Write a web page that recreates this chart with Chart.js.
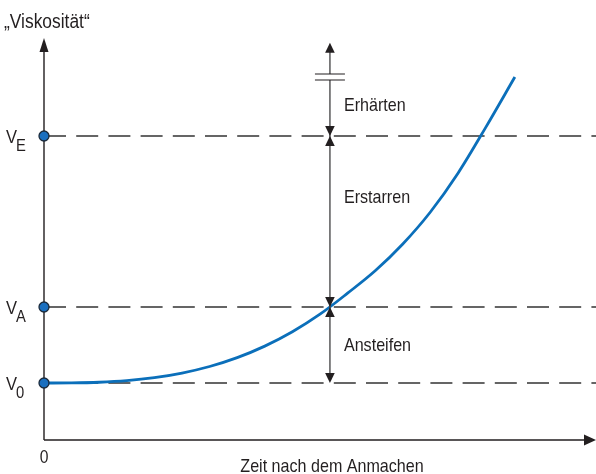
<!DOCTYPE html>
<html><head><meta charset="utf-8">
<script src="https://cdn.jsdelivr.net/npm/chart.js@4.4.1/dist/chart.umd.min.js"></script>
<style>html,body{margin:0;padding:0;background:#fff}#wrap{width:596px;height:474px;position:relative}</style>
</head><body><div id="wrap"><canvas id="c"></canvas></div>
<script>
// ---- data ----
const timeValues      = [0, 5, 10, 15, 20, 25, 30, 35, 40, 45, 50, 55, 60, 65, 70, 75, 80, 85.3];
const viscosityValues = [14.25, 14.28, 14.44, 14.84, 15.58, 16.73, 18.37, 20.59, 23.47, 27.06, 31.45, 36.71, 42.3, 49.0, 57.0, 66.7, 78.1, 90.75];
const levelSubscripts = ['0', 'A', 'E'];
const levelValues     = [14.25, 33.25, 76];
const phaseNames      = ['Ansteifen', 'Erstarren', 'Erhärten'];
const phaseTime       = [51.8];
const xTickLabels     = ['0'];
const yAxisTitle      = '\u201EViskosität\u201C';
const xAxisTitle      = 'Zeit nach dem Anmachen';

const FONT = '"Liberation Sans",Arial,sans-serif';
const TXT = '#231f20';
const SQUEEZE = 0.87;

const curveData = timeValues.map((x, i) => ({x, y: viscosityValues[i]}));
const levelSets = levelValues.map(v => ({
  data: [{x: 0, y: v}, {x: 100, y: v}],
  borderColor: '#333', borderWidth: 1.3, borderDash: [22, 10.2],
  pointRadius: 0, fill: false, order: 3
}));

function txt(ctx, s, x, y, size, align) {
  ctx.save();
  ctx.font = size + 'px ' + FONT;
  ctx.textBaseline = 'alphabetic';
  ctx.textAlign = align || 'left';
  ctx.translate(x, y);
  ctx.scale(SQUEEZE, 1);
  ctx.fillText(s, 0, 0);
  ctx.restore();
}

function arrowHead(ctx, x, y, dir) { // dir: -1 up, 1 down, tip at (x,y)
  const L = 10, W = 4.8;
  ctx.beginPath();
  ctx.moveTo(x, y);
  ctx.lineTo(x - W, y - dir * L);
  ctx.lineTo(x + W, y - dir * L);
  ctx.closePath();
  ctx.fill();
}

const diagramPlugin = {
  id: 'diagram',
  beforeDatasetsDraw(chart) {
    const {ctx, scales: {x, y}} = chart;
    const x0 = x.getPixelForValue(0), y0 = y.getPixelForValue(0);
    const xr = x.getPixelForValue(x.max), yt = y.getPixelForValue(y.max);
    ctx.save();
    ctx.strokeStyle = '#231f20'; ctx.fillStyle = '#231f20'; ctx.lineWidth = 1.4;
    ctx.beginPath();
    ctx.moveTo(x0, y0); ctx.lineTo(x0, yt + 8);
    ctx.moveTo(x0, y0); ctx.lineTo(xr - 8, y0);
    ctx.stroke();
    ctx.beginPath(); ctx.moveTo(x0, yt); ctx.lineTo(x0 - 4.5, yt + 14); ctx.lineTo(x0 + 4.5, yt + 14); ctx.closePath(); ctx.fill();
    ctx.beginPath(); ctx.moveTo(xr, y0); ctx.lineTo(xr - 12, y0 - 5.5); ctx.lineTo(xr - 12, y0 + 5.5); ctx.closePath(); ctx.fill();
    ctx.restore();
  },
  afterDatasetsDraw(chart) {
    const {ctx, scales: {x, y}} = chart;
    const ax = x.getPixelForValue(phaseTime[0]);
    const pV0 = y.getPixelForValue(levelValues[0]);
    const pVA = y.getPixelForValue(levelValues[1]);
    const pVE = y.getPixelForValue(levelValues[2]);
    const pTop = y.getPixelForValue(99.3);
    const brk1 = y.getPixelForValue(91.5), brk2 = y.getPixelForValue(90.0);
    ctx.save();
    ctx.strokeStyle = '#4d4d4f'; ctx.lineWidth = 1.4;
    ctx.beginPath();
    ctx.moveTo(ax, pTop + 8); ctx.lineTo(ax, brk1);
    ctx.moveTo(ax, brk2); ctx.lineTo(ax, pV0 - 5);
    ctx.stroke();
    ctx.strokeStyle = '#231f20'; ctx.lineWidth = 1.2;
    ctx.beginPath();
    ctx.moveTo(ax - 15, brk1); ctx.lineTo(ax + 15, brk1);
    ctx.moveTo(ax - 15, brk2); ctx.lineTo(ax + 15, brk2);
    ctx.stroke();
    ctx.fillStyle = '#231f20';
    arrowHead(ctx, ax, pTop, -1);
    arrowHead(ctx, ax, pVE, 1);
    arrowHead(ctx, ax, pVE, -1);
    arrowHead(ctx, ax, pVA, 1);
    arrowHead(ctx, ax, pVA, -1);
    arrowHead(ctx, ax, pV0, 1);

    ctx.fillStyle = TXT;
    const lx = ax + 14;
    txt(ctx, phaseNames[0], lx, y.getPixelForValue(22.2), 18.5);
    txt(ctx, phaseNames[1], lx, y.getPixelForValue(59.2), 18.5);
    txt(ctx, phaseNames[2], lx, y.getPixelForValue(82.2), 18.5);

    const px0 = x.getPixelForValue(0);
    levelValues.forEach((v, i) => {
      const py = y.getPixelForValue(v);
      txt(ctx, 'V', px0 - 38, py + 7, 19);
      txt(ctx, levelSubscripts[i], px0 - 28, py + 15, 17);
    });

    txt(ctx, yAxisTitle, 4, 28, 20);
    txt(ctx, xTickLabels[0], px0, 463, 18, 'center');
    txt(ctx, xAxisTitle, (x.left + x.right) / 2 + 12, 472, 18.5, 'center');
    ctx.restore();
  }
};

new Chart(document.getElementById('c'), {
  type: 'line',
  data: {
    datasets: [
      { data: levelValues.map(v => ({x: 0, y: v})), showLine: false, clip: false,
        pointRadius: 5, pointHoverRadius: 5, pointBackgroundColor: '#1a6fbf',
        pointBorderColor: '#1c2b3c', pointBorderWidth: 1.3, order: 0 },
      { data: curveData, borderColor: '#0b6fba', borderWidth: 2.8,
        cubicInterpolationMode: 'monotone', pointRadius: 0, fill: false, order: 1 },
      ...levelSets
    ]
  },
  options: {
    responsive: true, maintainAspectRatio: false, animation: false,
    layout: {autoPadding: false, padding: {left: 44, top: 38, right: 0, bottom: 34}},
    plugins: {legend: {display: false}, tooltip: {enabled: false}},
    scales: {
      x: {type: 'linear', min: 0, max: 100, display: false},
      y: {type: 'linear', min: 0, max: 100.5, display: false}
    },
    events: []
  },
  plugins: [diagramPlugin]
});
</script></body></html>
